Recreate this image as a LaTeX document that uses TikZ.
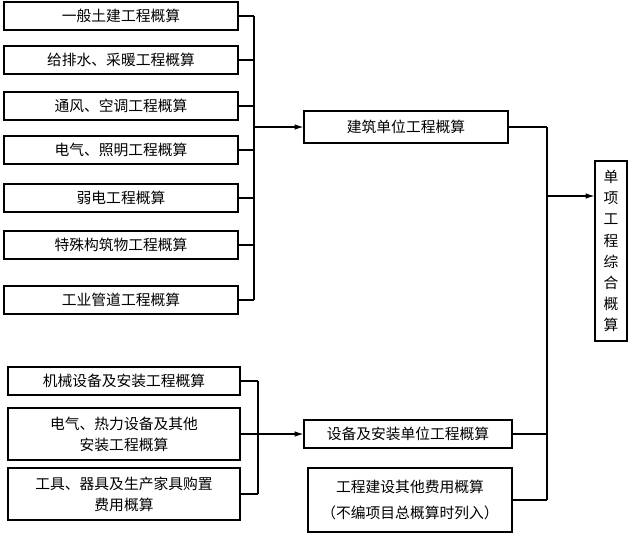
\documentclass[tikz,border=0pt]{standalone}
\usepackage{fontspec}
\setmainfont{Noto Sans CJK SC}
\usepackage{tikz}
\usetikzlibrary{arrows.meta}
\tikzset{
  itembox/.style={draw, thick, minimum width=5.85cm, minimum height=0.7cm, inner sep=1pt, align=center, font=\fontsize{10.5}{15}\selectfont},
  link/.style={thick},
  feed/.style={thick, -{Latex[length=2.2mm,width=1.4mm]}}
}
\begin{document}
\begin{tikzpicture}[x=0.025cm, y=-0.025cm]

    \useasboundingbox (0, 0) rectangle (628, 535);

    % left column, building part
    \node[itembox] (b1) at (121, 16) {一般土建工程概算};
    \node[itembox] (b2) at (121, 60) {给排水、采暖工程概算};
    \node[itembox] (b3) at (121, 106) {通风、空调工程概算};
    \node[itembox] (b4) at (121, 150) {电气、照明工程概算};
    \node[itembox] (b5) at (121, 198) {弱电工程概算};
    \node[itembox] (b6) at (121, 245) {特殊构筑物工程概算};
    \node[itembox] (b7) at (121, 300) {工业管道工程概算};

    % left column, equipment part
    \node[itembox, minimum width=5.8cm] (e1) at (124, 381) {机械设备及安装工程概算};
    \node[itembox, minimum width=5.8cm, minimum height=1.3cm] (e2) at (124, 434) {电气、热力设备及其他\\安装工程概算};
    \node[itembox, minimum width=5.8cm, minimum height=1.3cm] (e3) at (124, 494) {工具、器具及生产家具购置\\费用概算};

    % middle column
    \node[itembox, minimum width=5.1cm, minimum height=0.8cm] (bu) at (406, 127) {建筑单位工程概算};
    \node[itembox, minimum width=5.2cm] (eu) at (408, 434) {设备及安装单位工程概算};
    \node[itembox, minimum width=5.1cm, minimum height=1.6cm, font=\fontsize{10.5}{19}\selectfont] (ot) at (410, 500) {工程建设其他费用概算\\（不编项目总概算时列入）};

    % right column
    \node[itembox, minimum width=0.8cm, minimum height=4.5cm, text width=0.4cm] (sum) at (611, 251) {单\\项\\工\\程\\综\\合\\概\\算};

    \coordinate (bc) at (254, 127);
    \coordinate (ec) at (258, 434);
    \coordinate (rc) at (547, 196);

    % collectors
    \foreach \n in {b1, b2, b3, b4, b5, b6, b7}
        \draw[link] (\n.east) -- (\n.east -| bc);
    \draw[link] (b1.east -| bc) -- (b7.east -| bc);
    \draw[feed] (bc) -- (bu.west);

    \foreach \n in {e1, e2, e3}
        \draw[link] (\n.east) -- (\n.east -| ec);
    \draw[link] (e1.east -| ec) -- (e3.east -| ec);
    \draw[feed] (ec) -- (eu.west);

    \draw[link] (bu.east) -- (bu.east -| rc);
    \draw[link] (eu.east) -- (eu.east -| rc);
    \draw[link] (ot.east) -- (ot.east -| rc);
    \draw[link] (bu.east -| rc) -- (ot.east -| rc);
    \draw[feed] (rc) -- (sum.west |- rc);

  \end{tikzpicture}
\end{document}
